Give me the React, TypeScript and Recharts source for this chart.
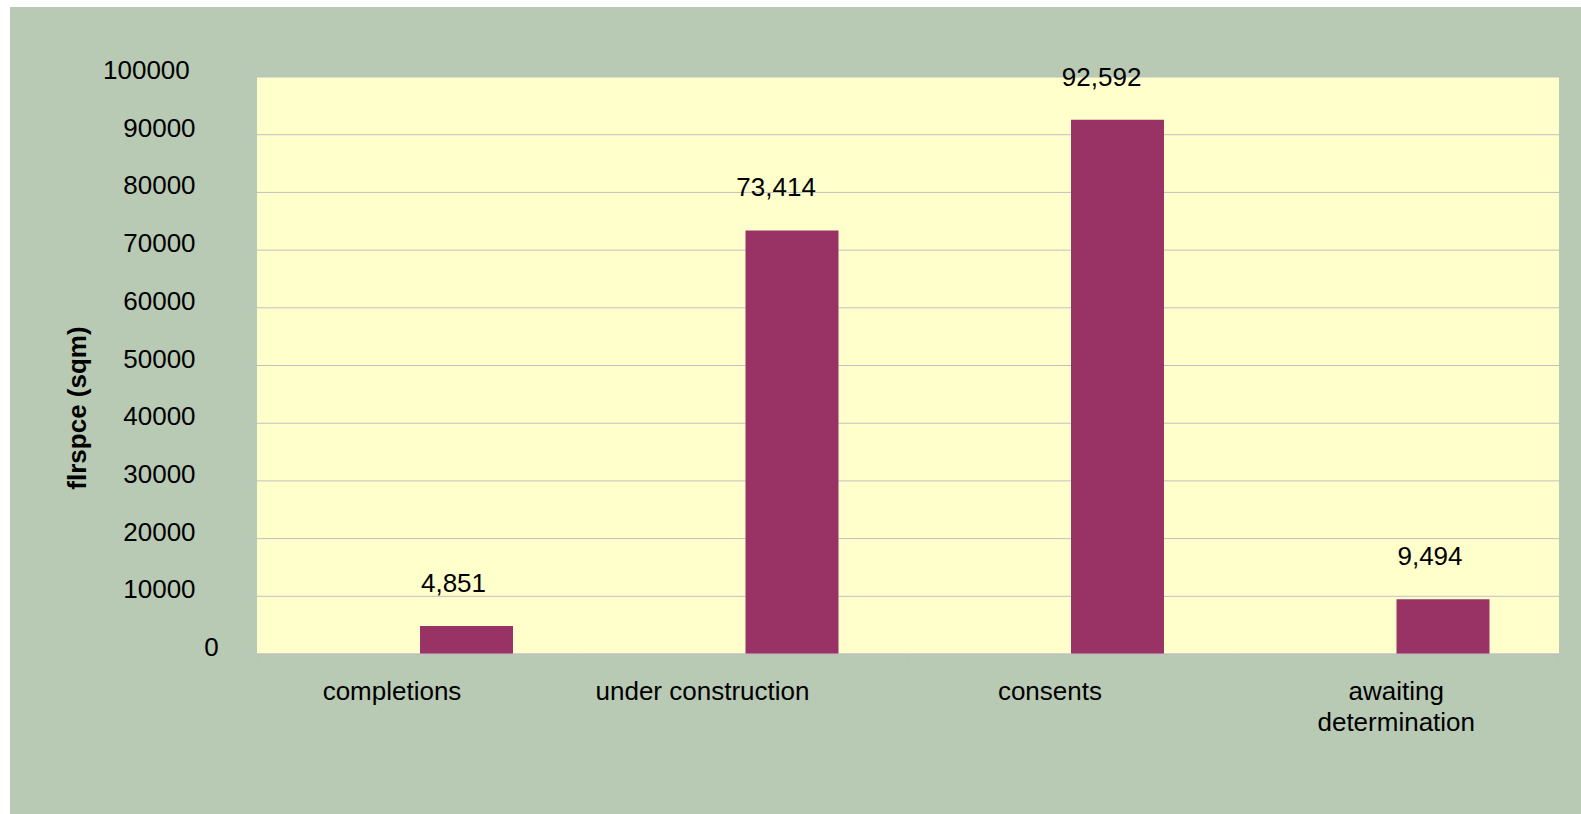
import React from 'react';
import { BarChart, Bar, XAxis, YAxis, CartesianGrid, LabelList } from 'recharts';

const categories = ['completions', 'under construction', 'consents', 'awaiting determination'];
const floorspace = [4851, 73414, 92592, 9494];
const yTicks = [0, 10000, 20000, 30000, 40000, 50000, 60000, 70000, 80000, 90000, 100000];
const yTitle = 'flrspce (sqm)';

const data = categories.map((name, i) => ({ name, flrspce: floorspace[i] }));

const FONT = "'Liberation Sans', Arial, Helvetica, sans-serif";
const FONT_SIZE = 26;
const CHART_W = 1571;
const CHART_H = 807;
const MARGIN = { top: 70, right: 22, left: 0, bottom: 0 };
const Y_AXIS_W = 247;
const X_AXIS_H = 160;
const PLOT_W = CHART_W - MARGIN.right - Y_AXIS_W;
const PLOT_H = CHART_H - MARGIN.top - X_AXIS_H;
const BAND = PLOT_W / categories.length;
// the original lays text out as if it were 1.4x wider than it's drawn
const SPREAD = 1.4;
const LINE_H = 31;

let ctx: CanvasRenderingContext2D | null = null;
function measure(text: string, bold = false) {
  if (!ctx) ctx = document.createElement('canvas').getContext('2d');
  if (!ctx) return text.length * FONT_SIZE * 0.55;
  ctx.font = `${bold ? 'bold ' : ''}${FONT_SIZE}px ${FONT}`;
  return ctx.measureText(text).width;
}

function XTick({ x, y, payload, index }: any) {
  const label = String(payload.value);
  const marks = [x - BAND / 2];
  if (index === categories.length - 1) marks.push(x + BAND / 2);

  let lines: string[] = [label];
  if (measure(label) * SPREAD > BAND) {
    lines = [];
    let cur = '';
    for (const word of label.split(' ')) {
      const next = cur ? cur + ' ' + word : word;
      if (cur && measure(next) * SPREAD > BAND) {
        lines.push(cur);
        cur = word;
      } else {
        cur = next;
      }
    }
    if (cur) lines.push(cur);
  }

  return (
    <g>
      {marks.map((mx, i) => (
        <line key={i} x1={mx} x2={mx} y1={y} y2={y + 11} stroke="#C0C0C0" />
      ))}
      {lines.length === 1 ? (
        <text x={x - (SPREAD * measure(label)) / 2} y={y + 45.5} fontSize={FONT_SIZE} fontFamily={FONT} fill="#000">
          {label}
        </text>
      ) : (
        lines.map((ln, i) => (
          <text key={i} x={x} y={y + 45.5 + i * LINE_H} textAnchor="middle" fontSize={FONT_SIZE} fontFamily={FONT} fill="#000">
            {ln}
          </text>
        ))
      )}
    </g>
  );
}

function YTick({ x, y, payload }: any) {
  const label = String(payload.value);
  const w = measure(label);
  return (
    <text x={x - 22.5 - SPREAD * w} y={y + 2} fontSize={FONT_SIZE} fontFamily={FONT} fill="#000">
      {label}
    </text>
  );
}

function ValueLabel({ x, y, width, value }: any) {
  if (value == null) return null;
  const text = Number(value).toLocaleString('en-US');
  const w = measure(text);
  return (
    <text x={x + width / 2 - (SPREAD * w) / 2} y={y - 34} fontSize={FONT_SIZE} fontFamily={FONT} fill="#000">
      {text}
    </text>
  );
}

function YTitle(props: any) {
  const vb = props.viewBox || { y: MARGIN.top, height: PLOT_H };
  const cx = 76;
  const cy = vb.y + vb.height / 2 + 42.5;
  return (
    <text
      x={cx}
      y={cy}
      transform={`rotate(-90, ${cx}, ${cy})`}
      textAnchor="middle"
      fontSize={FONT_SIZE}
      fontWeight="bold"
      fontFamily={FONT}
      fill="#000"
    >
      {yTitle}
    </text>
  );
}

export default function App() {
  return (
    <div style={{ position: 'absolute', left: 10, top: 7, width: CHART_W, height: CHART_H, background: '#B8CAB4' }}>
      <BarChart width={CHART_W} height={CHART_H} data={data} margin={MARGIN} barGap={0} barSize={93}>
        <CartesianGrid vertical={false} stroke="#C0C0C0" fill="#FFFFCC" fillOpacity={1} />
        <XAxis
          dataKey="name"
          height={X_AXIS_H}
          interval={0}
          tickSize={0}
          tickMargin={0}
          tickLine={false}
          axisLine={{ stroke: '#C0C0C0' }}
          tick={<XTick />}
        />
        <YAxis
          width={Y_AXIS_W}
          domain={[0, 100000]}
          ticks={yTicks}
          interval={0}
          tickSize={10}
          tickMargin={0}
          axisLine={false}
          tickLine={{ stroke: '#C0C0C0' }}
          tick={<YTick />}
          label={(p: any) => <YTitle {...p} />}
        />
        <Bar dataKey="blank" fill="none" legendType="none" isAnimationActive={false} />
        <Bar dataKey="flrspce" fill="#993366" isAnimationActive={false}>
          <LabelList dataKey="flrspce" content={<ValueLabel />} />
        </Bar>
      </BarChart>
    </div>
  );
}
